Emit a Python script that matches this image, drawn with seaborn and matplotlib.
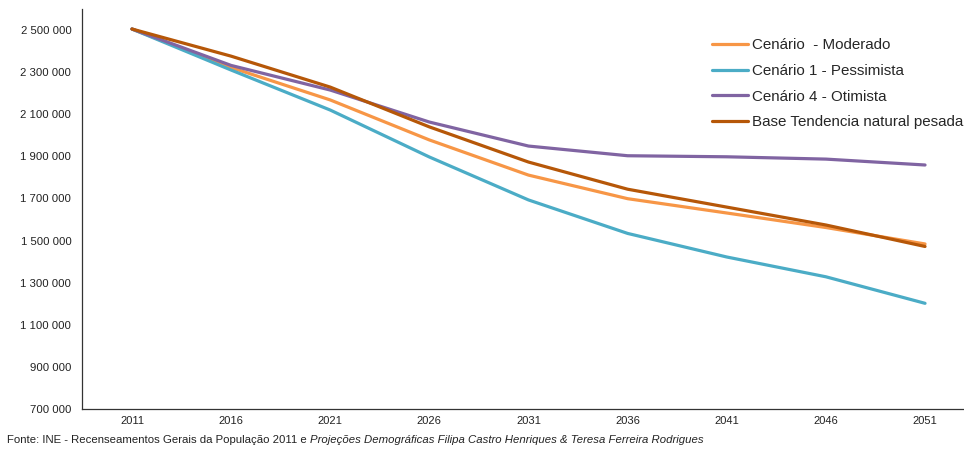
import matplotlib
matplotlib.use("Agg")
import matplotlib.pyplot as plt
from matplotlib.ticker import FuncFormatter, FixedLocator
import seaborn as sns
import pandas as pd

years = ["2011", "2016", "2021", "2026", "2031", "2036", "2041", "2046", "2051"]
moderado = [2505000, 2322000, 2168000, 1978000, 1811000, 1699000, 1631000, 1562000, 1484000]
pessimista = [2505000, 2310000, 2120000, 1897000, 1693000, 1534000, 1422000, 1328000, 1202000]
otimista = [2505000, 2332000, 2215000, 2063000, 1949000, 1903000, 1898000, 1887000, 1859000]
base = [2505000, 2376000, 2229000, 2040000, 1873000, 1744000, 1659000, 1574000, 1472000]

series_names = [
    "Cenário  - Moderado",
    "Cenário 1 - Pessimista",
    "Cenário 4 - Otimista",
    "Base Tendencia natural pesada",
]
series_values = [moderado, pessimista, otimista, base]
colors = ["#F79646", "#4BACC6", "#8064A2", "#B65708"]

frames = []
for name, vals in zip(series_names, series_values):
    frames.append(pd.DataFrame({"Ano": years, "População": vals, "Cenário": name}))
df = pd.concat(frames, ignore_index=True)

sns.set_style("white")
plt.rcParams["font.family"] = ["Liberation Sans", "DejaVu Sans"]

W, H = 964, 449
fig = plt.figure(figsize=(W / 100, H / 100), dpi=100)
left, right_px, top_px, bottom_px = 82.4, 974.6, 9.0, 409.0
ax = fig.add_axes([left / W, (H - bottom_px) / H, (right_px - left) / W, (bottom_px - top_px) / H])

sns.lineplot(data=df, x="Ano", y="População", hue="Cenário", palette=colors,
             sort=False, linewidth=2.3, ax=ax, legend=True)

ax.set_xlim(-0.5, len(years) - 0.5)
ax.set_ylim(700000, 2600000)
ax.set_yticks(range(700000, 2500001, 200000))
ax.yaxis.set_major_formatter(FuncFormatter(lambda v, p: f"{int(v):,}".replace(",", " ")))
ax.set_xticks(range(len(years)))
ax.set_xticklabels(years)
ax.xaxis.set_minor_locator(FixedLocator([i - 0.5 for i in range(len(years) + 1)]))
ax.tick_params(axis="x", which="major", length=0, pad=5, labelsize=8, colors="#222222")
ax.tick_params(axis="x", which="minor", length=4, width=0.8, color="#333333", direction="out")
ax.tick_params(axis="y", which="major", length=5, width=0.8, color="#333333", direction="out",
               labelsize=8.2, labelcolor="#222222", pad=3)
ax.set_xlabel("")
ax.set_ylabel("")
for s in ["top", "right"]:
    ax.spines[s].set_visible(False)
for s in ["left", "bottom"]:
    ax.spines[s].set_color("#333333")
    ax.spines[s].set_linewidth(0.9)

ax.legend(title=None, frameon=False, loc="upper left",
          bbox_to_anchor=(712 / W, 1 - 38 / H), bbox_transform=fig.transFigure,
          fontsize=10.9, handlelength=2.4, handletextpad=0.25, labelspacing=0.78,
          borderpad=0, borderaxespad=0)
for line in ax.get_legend().get_lines():
    line.set_linewidth(2.3)

# Source note: plain part followed by italic part
t1 = fig.text(7 / W, 1 - 440 / H, "Fonte: INE - Recenseamentos Gerais da População 2011 e ",
              fontsize=8.2, color="#222222", va="center", ha="left")
fig.canvas.draw()
bb = t1.get_window_extent()
fig.text(bb.x1 / W, 1 - 440 / H,
         "Projeções Demográficas Filipa Castro Henriques & Teresa Ferreira Rodrigues",
         fontsize=8.2, color="#222222", va="center", ha="left", style="italic")

fig.savefig("out.png", dpi=100)
